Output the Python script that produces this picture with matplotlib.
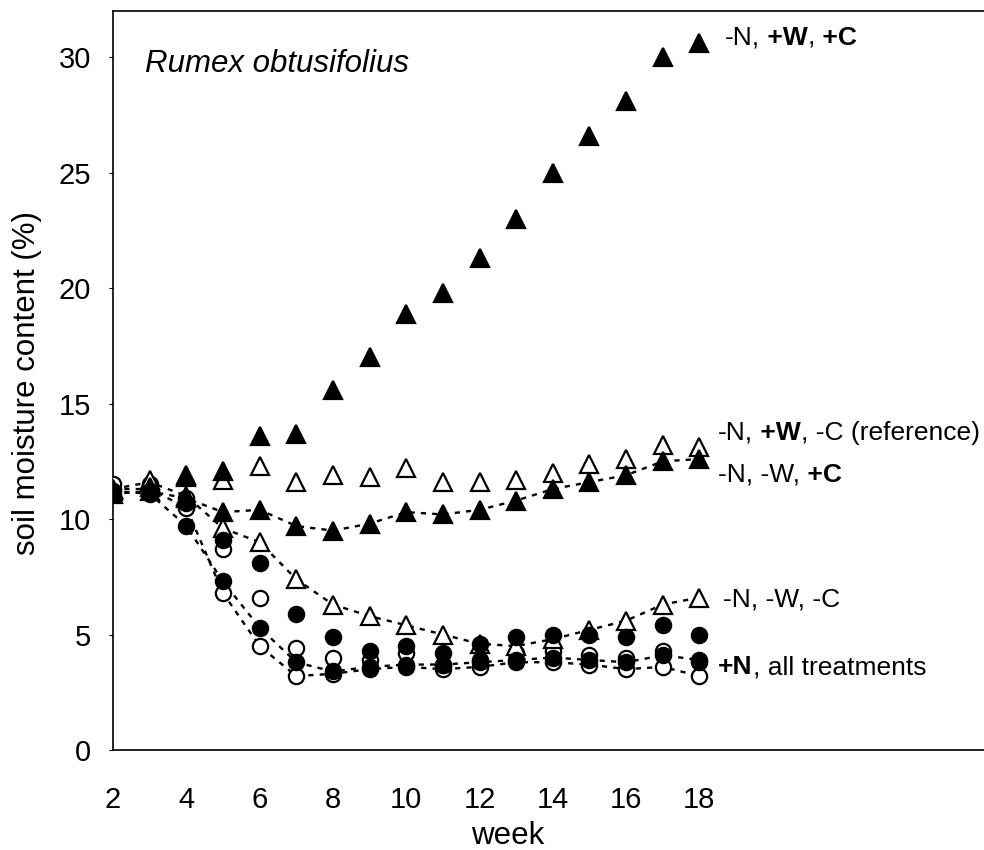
import matplotlib
matplotlib.use("Agg")
import matplotlib.pyplot as plt

plt.rcParams['font.family'] = ['Liberation Sans', 'DejaVu Sans']

weeks = list(range(2, 19))

# -N treatments (triangles)
n0_w1_c1 = [11.2, 11.4, 11.9, 12.1, 13.6, 13.7, 15.6, 17.0, 18.9, 19.8, 21.3, 23.0, 25.0, 26.6, 28.1, 30.0, 30.6]
n0_w1_c0 = [11.3, 11.7, 11.8, 11.7, 12.3, 11.6, 11.9, 11.8, 12.2, 11.6, 11.6, 11.7, 12.0, 12.4, 12.6, 13.2, 13.1]
n0_w0_c1 = [11.1, 11.2, 10.9, 10.3, 10.4, 9.7, 9.5, 9.8, 10.3, 10.2, 10.4, 10.8, 11.3, 11.6, 11.9, 12.5, 12.6]
n0_w0_c0 = [11.3, 11.6, 11.0, 9.6, 9.0, 7.4, 6.3, 5.8, 5.4, 5.0, 4.6, 4.5, 4.8, 5.2, 5.6, 6.3, 6.6]

# +N treatments (circles)
n1_w1_c1 = [11.1, 11.2, 10.7, 9.1, 8.1, 5.9, 4.9, 4.3, 4.5, 4.2, 4.6, 4.9, 5.0, 5.0, 4.9, 5.4, 5.0]
n1_w1_c0 = [11.5, 11.5, 10.9, 8.7, 6.6, 4.4, 4.0, 3.9, 4.2, 3.7, 3.9, 4.2, 4.3, 4.1, 4.0, 4.3, 3.8]
n1_w0_c1 = [11.2, 11.1, 9.7, 7.3, 5.3, 3.8, 3.4, 3.6, 3.7, 3.7, 3.8, 3.9, 4.0, 3.9, 3.8, 4.1, 3.9]
n1_w0_c0 = [11.3, 11.3, 10.5, 6.8, 4.5, 3.2, 3.3, 3.5, 3.6, 3.5, 3.6, 3.8, 3.8, 3.7, 3.5, 3.6, 3.2]

xticks = [2, 4, 6, 8, 10, 12, 14, 16, 18]
yticks = [0, 5, 10, 15, 20, 25, 30]

W, H = 984, 850
fig = plt.figure(figsize=(W / 100, H / 100), dpi=100)
ax = fig.add_axes([113 / W, 100 / H, 1 - 113 / W, 739 / H])

dash = dict(color='black', linestyle=(0, (2.2, 2.6)), linewidth=1.7)
tri = dict(marker='^', markersize=13, markeredgewidth=1.6, markeredgecolor='black')
circ = dict(marker='o', markersize=11, markeredgewidth=1.6, markeredgecolor='black')

# dashed (-W) series
ax.plot(weeks, n1_w0_c0, **dash, zorder=1)
ax.plot(weeks, n1_w0_c1, **dash, zorder=1)
ax.plot(weeks, n0_w0_c0, **dash, zorder=1)
ax.plot(weeks, n0_w0_c1, **dash, zorder=1)

ax.plot(weeks, n1_w0_c0, linestyle='none', markerfacecolor='white', **circ, zorder=3)
ax.plot(weeks, n1_w1_c0, linestyle='none', markerfacecolor='white', **circ, zorder=3)
ax.plot(weeks, n1_w0_c1, linestyle='none', markerfacecolor='black', **circ, zorder=4)
ax.plot(weeks, n1_w1_c1, linestyle='none', markerfacecolor='black', **circ, zorder=4)

ax.plot(weeks, n0_w0_c0, linestyle='none', markerfacecolor='white', **tri, zorder=3)
ax.plot(weeks, n0_w1_c0, linestyle='none', markerfacecolor='white', **tri, zorder=3)
ax.plot(weeks, n0_w0_c1, linestyle='none', markerfacecolor='black', **tri, zorder=4)
ax.plot(weeks, n0_w1_c1, linestyle='none', markerfacecolor='black', **tri, zorder=4)

ax.set_xlim(2, 2 + (W - 113) / 36.65)
ax.set_ylim(0, 32)
ax.spines['right'].set_visible(False)
for s in ['left', 'top', 'bottom']:
    ax.spines[s].set_linewidth(1.2)

ax.set_xticks(xticks)
ax.set_yticks(yticks)
ax.tick_params(axis='x', length=0, pad=26, labelsize=21)
ax.tick_params(axis='y', direction='out', length=3, width=0.8, pad=13, labelsize=21)

fig.text(508 / W, 1 - 836 / H, 'week', ha='center', va='center', fontsize=22.5)
fig.text(27 / W, 1 - 383 / H, 'soil moisture content (%)', rotation=90,
         ha='center', va='center', fontsize=22.5)

ax.text(2.87, 29.7, 'Rumex obtusifolius', style='italic', fontsize=22.5, va='center')


def rich_label(x, y, parts):
    t = ax.text(x, y, parts[0][0], fontweight=parts[0][1], fontsize=19, va='center')
    for s, w in parts[1:]:
        t = ax.annotate(s, xycoords=t, xy=(1, 0), va='bottom', fontweight=w, fontsize=19)


rich_label(18.70, 30.84, [('-N,', 'normal'), (' +W', 'bold'), (',', 'normal'), (' +C', 'bold')])
rich_label(18.51, 13.73, [('-N,', 'normal'), (' +W', 'bold'), (', -C (reference)', 'normal')])
rich_label(18.51, 11.91, [('-N, -W,', 'normal'), (' +C', 'bold')])
rich_label(18.64, 6.50, [('-N, -W, -C', 'normal')])
rich_label(18.51, 3.59, [('+N', 'bold'), (', all treatments', 'normal')])

fig.savefig('out.png', dpi=100)
